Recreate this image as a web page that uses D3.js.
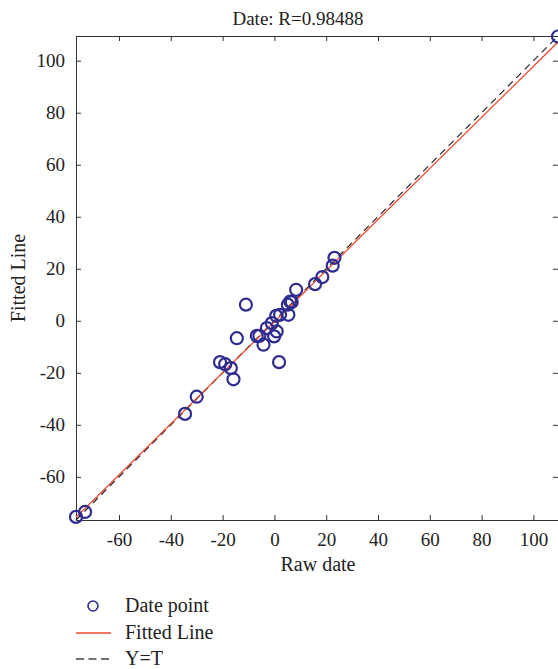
<!DOCTYPE html>
<html>
<head>
<meta charset="utf-8">
<script src="https://cdn.jsdelivr.net/npm/d3@7"></script>
<style>
  body { margin: 0; background: #fff; }
  svg text { font-family: "Liberation Serif", "DejaVu Serif", serif; fill: #222; }
</style>
</head>
<body>
<div id="chart"></div>
<script>
// raw date (target) and fitted output for each point
var rawDate = [-76.6, -73.1, -34.5, -30.0, -21.0, -19.0, -16.8, -15.8, -14.5, -11.0,
               -6.8, -5.8, -4.2, -2.9, -1.0, -0.1, 0.9, 1.8, 0.7, 2.2,
               5.4, 5.2, 6.1, 6.7, 8.4, 15.7, 18.5, 22.5, 23.2, 109.5];
var fitted  = [-75.4, -73.5, -35.8, -29.2, -15.9, -16.7, -18.2, -22.5, -6.7, 6.2,
               -5.8, -5.8, -9.2, -2.8, -0.9, -6.0, -4.1, -15.9, 1.9, 2.3,
               2.3, 6.2, 7.4, 7.2, 11.9, 14.1, 16.8, 21.2, 24.2, 109.3];
var fitSlope = 0.982, fitIntercept = -0.35;
var xTicks = [-60, -40, -20, 0, 20, 40, 60, 80, 100];
var yTicks = [-60, -40, -20, 0, 20, 40, 60, 80, 100];
var titleText = "Date: R=0.98488";
var legendItems = ["Date point", "Fitted Line", "Y=T"];

var W = 558, H = 669;
var margin = {top: 36, right: 0, bottom: 149, left: 76},
    width = W - margin.left - margin.right,
    height = H - margin.top - margin.bottom;

var blue = "#2f2c90", red = "#f04a2e", axisCol = "#333";

var svg = d3.select("#chart").append("svg")
    .attr("width", W).attr("height", H);

var lim = d3.extent(rawDate.concat(fitted));
var x = d3.scaleLinear().domain(lim).range([0, width]);
var y = d3.scaleLinear().domain(lim).range([height, 0]);
var plain = function(d) { return String(d); };   // hyphen minus, like the original

var g = svg.append("g")
    .attr("transform", "translate(" + margin.left + "," + margin.top + ")");

g.append("defs").append("clipPath").attr("id", "clip")
  .append("rect").attr("x", -8).attr("y", -8).attr("width", width + 16).attr("height", height + 16);

// axes (ticks inward, box all round)
g.append("g").attr("transform", "translate(0," + height + ")")
    .call(d3.axisBottom(x).tickValues(xTicks).tickSize(-5).tickPadding(13).tickFormat(plain));
g.append("g")
    .call(d3.axisLeft(y).tickValues(yTicks).tickSize(-5).tickPadding(11).tickFormat(plain));
g.append("g").call(d3.axisTop(x).tickValues(xTicks).tickSize(-5).tickFormat(""));
g.append("g").attr("transform", "translate(" + width + ",0)")
    .call(d3.axisRight(y).tickValues(yTicks).tickSize(-5).tickFormat(""));
g.selectAll(".domain").attr("stroke", axisCol).attr("stroke-width", 1);
g.selectAll(".tick line").attr("stroke", axisCol);
g.selectAll(".tick text").style("font-size", "19px")
    .style("font-family", "Liberation Serif, serif").attr("fill", "#222");

// Y = T dashed
var plot = g.append("g").attr("clip-path", "url(#clip)");
plot.append("line")
    .attr("x1", x(lim[0])).attr("y1", y(lim[0]))
    .attr("x2", x(lim[1])).attr("y2", y(lim[1]))
    .attr("stroke", "#222").attr("stroke-width", 1.2).attr("stroke-dasharray", "7,5");

// fitted line
plot.append("line")
    .attr("x1", x(lim[0])).attr("y1", y(fitSlope * lim[0] + fitIntercept))
    .attr("x2", x(lim[1])).attr("y2", y(fitSlope * lim[1] + fitIntercept))
    .attr("stroke", red).attr("stroke-width", 1.3);

// data points
plot.selectAll("circle.pt").data(rawDate).enter().append("circle")
    .attr("class", "pt")
    .attr("cx", function(d) { return x(d); })
    .attr("cy", function(d, i) { return y(fitted[i]); })
    .attr("r", 6)
    .attr("fill", "none").attr("stroke", blue).attr("stroke-width", 2.2);

// titles
svg.append("text").attr("x", 298).attr("y", 25).attr("text-anchor", "middle")
    .style("font-size", "19px").text(titleText);
svg.append("text").attr("x", 318).attr("y", 571).attr("text-anchor", "middle")
    .style("font-size", "20px").text("Raw date");
svg.append("text").attr("transform", "translate(25,278) rotate(-90)")
    .attr("text-anchor", "middle").style("font-size", "20px").text("Fitted Line");

// legend
var lg = svg.append("g");
var ly = [606, 633, 659];
lg.append("circle").attr("cx", 93).attr("cy", ly[0]).attr("r", 5)
    .attr("fill", "none").attr("stroke", blue).attr("stroke-width", 1.6);
lg.append("line").attr("x1", 76).attr("x2", 111).attr("y1", ly[1]).attr("y2", ly[1])
    .attr("stroke", red).attr("stroke-width", 1.3);
lg.append("line").attr("x1", 76).attr("x2", 111).attr("y1", ly[2]).attr("y2", ly[2])
    .attr("stroke", "#444").attr("stroke-width", 1.3).attr("stroke-dasharray", "8,4.5");
lg.selectAll("text.lt").data(legendItems).enter().append("text")
    .attr("class", "lt")
    .attr("x", 125).attr("y", function(d, i) { return ly[i] + 6; })
    .style("font-size", "20px").text(function(d) { return d; });
</script>
</body>
</html>
